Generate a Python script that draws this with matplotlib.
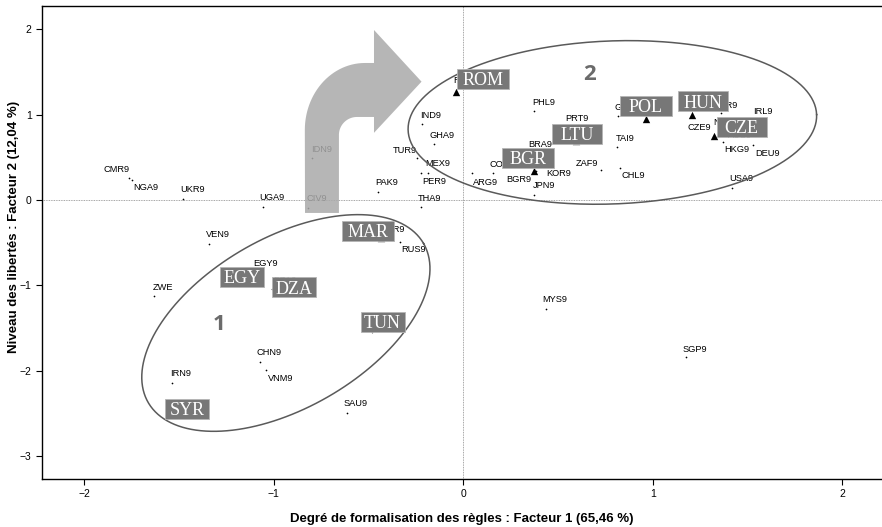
import numpy as np
import matplotlib.pyplot as plt
from matplotlib.patches import Polygon, Rectangle

# country codes and coordinates on the two factors
codes = ["ARG9", "BGR9", "BRA9", "CHL9", "CHN9", "CIV9", "CMR9", "COL9", "CZE9", "DEU9",
         "DZA9", "EGY9", "GHA9", "GRC9", "HKG9", "HUN9", "IDN9", "IND9", "IRL9", "IRN9",
         "JPN9", "KOR9", "LTU9", "MAR9", "MEX9", "MYS9", "NGA9", "NLD9", "NOR9", "AUS9",
         "PAK9", "PER9", "PHL9", "POL9", "PRT9", "ROM9", "RUS9", "SAU9", "SGP9", "SYR9",
         "TAI9", "THA9", "TUN9", "TUR9", "UGA9", "UKR9", "USA9", "VEN9", "VNM9", "ZAF9",
         "ZWE"]
f1 = [0.046, 0.374, 0.356, 0.826, -1.074, -0.821, -1.764, 0.157, 1.323, 1.526,
      -1.012, -1.106, -0.154, 0.817, 1.368, 1.204, -0.801, -0.221, 1.538, -1.540,
      0.372, 0.383, 0.592, -0.437, -0.189, 0.435, -1.751, 1.380, 1.357, 1.459,
      -0.453, -0.224, 0.374, 0.961, 0.551, -0.040, -0.335, -0.613, 1.174, -1.464,
      0.808, -0.224, -0.484, -0.247, -1.060, -1.479, 1.418, -1.343, -1.042, 0.726,
      -1.633]
f2 = [0.313, 0.343, 0.539, 0.379, -1.896, -0.097, 0.261, 0.313, 0.750, 0.645,
      -1.047, -0.844, 0.653, 0.988, 0.683, 0.996, 0.489, 0.891, 0.932, -2.142,
      0.059, 0.340, 0.692, -0.445, 0.320, -1.278, 0.234, 0.844, 1.016, 0.844,
      0.090, 0.320, 1.043, 0.946, 0.844, 1.270, -0.489, -2.494, -1.841, -2.509,
      0.625, -0.079, -1.551, 0.496, -0.079, 0.012, 0.144, -0.519, -1.993, 0.352,
      -1.125]

# countries drawn with a triangle
tri_codes = ["ROM9", "LTU9", "BGR9", "POL9", "HUN9", "CZE9", "MAR9"]
# countries tagged with a grey box
box_codes = ["ROM9", "LTU9", "BGR9", "POL9", "HUN9", "CZE9", "MAR9", "EGY9", "DZA9", "TUN9", "SYR9"]
box_names = ["ROM", "LTU", "BGR", "POL", "HUN", "CZE", "MAR", "EGY", "DZA", "TUN", "SYR"]

x_ticks = [-2, -1, 0, 1, 2]
y_ticks = [-3, -2, -1, 0, 1, 2]

# label offsets (pixels) from each point
lab_off = {
    "ARG9": (1, -9.4), "BGR9": (-27.6, -8.6), "BRA9": (-2.7, 9), "CHL9": (1.7, -8.3),
    "CHN9": (-3.3, 9), "CIV9": (-1.3, 9.3), "CMR9": (-26, 8.4), "COL9": (-3.3, 9),
    "CZE9": (-26.6, 8.3), "DEU9": (2.3, -8.3), "DZA9": (1.6, 8.5), "EGY9": (-0.7, 8.7),
    "GHA9": (-4.3, 8.6), "GRC9": (-4, 8.4), "HKG9": (1.6, -7.6), "HUN9": (-7.7, 12),
    "IDN9": (-1, 8.3), "IND9": (-1, 8.3), "IRL9": (-1.7, 8.8), "IRN9": (-1, 9.4),
    "JPN9": (-0.7, 9), "KOR9": (10.7, -2.3), "LTU9": (-10, 9), "MAR9": (-1.5, 8.7),
    "MEX9": (-2.7, 8.7), "MYS9": (-4, 9), "NGA9": (1.6, -7.7), "NLD9": (-12, 5.5),
    "NOR9": (-8.7, 8.3), "AUS9": (-12, -8), "PAK9": (-2.7, 9.6), "PER9": (1.3, -9),
    "PHL9": (-1.6, 8.3), "POL9": (-9.7, 11.3), "PRT9": (-2.3, 9), "ROM9": (-3, 10.7),
    "RUS9": (1.7, -8.3), "SAU9": (-3.3, 9.4), "SGP9": (-3, 8), "SYR9": (-3, 9),
    "TAI9": (-1, 8.4), "THA9": (-2.7, 8.4), "TUN9": (-2, 9), "TUR9": (-23.4, 6.7),
    "UGA9": (-3.4, 9.4), "UKR9": (-3.3, 9), "USA9": (-3.3, 8.7), "VEN9": (-3, 9.3),
    "VNM9": (2.3, -9), "ZAF9": (-25.3, 6.7), "ZWE": (-1.7, 8.3),
}
# box centre offsets and widths (pixels) from each point
box_off = [(27, 12.7), (1.6, 7), (-6.3, 13), (0, 13), (11.6, 13.7), (27.4, 9.3),
           (-12.4, 7), (-12, -4.7), (22, 1.8), (10.8, 10), (1, 5)]
box_w = [52, 50, 52, 52, 50, 50, 52, 44, 44, 44, 44]
box_h = 20

plt.rcParams['font.family'] = ['Liberation Sans', 'DejaVu Sans']

W, H = 882, 527
fig = plt.figure(figsize=(W / 100, H / 100), dpi=100)
ax = fig.add_axes([42 / W, 48 / H, 840 / W, 473 / H])
ax.set_xlim(-2.224, 2.209)
ax.set_ylim(-3.271, 2.274)

# pixels per data unit
sx = 840 / (2.209 + 2.224)
sy = 473 / (2.274 + 3.271)

ax.axhline(0, color='#888888', lw=0.6, ls=(0, (1, 1)), zorder=1)
ax.axvline(0, color='#888888', lw=0.6, ls=(0, (1, 1)), zorder=1)

tri = np.isin(codes, tri_codes)
xs = np.array(f1)
ys = np.array(f2)
ax.scatter(xs[~tri], ys[~tri], s=1.5, c='black', zorder=3, linewidths=0)
ax.scatter(xs[tri], ys[tri], s=28, marker='^', c='black', zorder=3, linewidths=0)

for c, x, y in zip(codes, f1, f2):
    ax.annotate(c, (x, y), xytext=lab_off[c], textcoords='offset pixels',
                ha='left', va='center', fontsize=6.7, zorder=3)

for c, name, (dx, dy), w in zip(box_codes, box_names, box_off, box_w):
    i = codes.index(c)
    x, y = f1[i], f2[i]
    ax.add_patch(Rectangle((x + (dx - w / 2) / sx, y + (dy - box_h / 2) / sy),
                           w / sx, box_h / sy, fc='#777777', ec='#b5b5b5', lw=0.6, zorder=6))
    ax.annotate(name, (x, y), xytext=(dx, dy - 6.2), textcoords='offset pixels',
                ha='center', va='baseline', fontsize=13, color='white',
                family='Liberation Serif', zorder=7)


def ellipse(cx, cy, a, b, ang):
    t = np.linspace(0, 2 * np.pi, 300)
    th = np.radians(ang)
    u, v = a * np.cos(t), b * np.sin(t)
    px = u * np.cos(th) - v * np.sin(th)
    py = u * np.sin(th) + v * np.cos(th)
    return cx + px / sx, cy + py / sy


ex, ey = ellipse(-0.937, -1.442, 159, 85, 30)
ax.plot(ex, ey, color='#5a5a5a', lw=1.1, zorder=5)
ex, ey = ellipse(0.786, 0.909, 204.4, 81.5, 2.2)
ax.plot(ex, ey, color='#5a5a5a', lw=1.1, zorder=5)

ax.text(-1.29, -1.46, "1", fontsize=16, fontweight='bold', color='#6b6b6b',
        family='Open Sans', ha='center', va='center', zorder=5)
ax.text(0.667, 1.475, "2", fontsize=16, fontweight='bold', color='#6b6b6b',
        family='Open Sans', ha='center', va='center', zorder=5)

# bent arrow from group 1 towards group 2
a_out = np.radians(np.linspace(90, 180, 30))
a_in = np.radians(np.linspace(180, 90, 30))
inner = np.column_stack([-0.562 + 0.095 * np.cos(a_in), 0.762 + 0.211 * np.sin(a_in)])
outer = np.column_stack([-0.520 + 0.317 * np.cos(a_out), 0.821 + 0.785 * np.sin(a_out)])
pts = np.vstack([[[-0.836, -0.152], [-0.657, -0.152]], inner,
                 [[-0.472, 0.973], [-0.472, 0.787], [-0.221, 1.387],
                  [-0.472, 1.993], [-0.472, 1.606]], outer])
ax.add_patch(Polygon(pts, closed=True, fc='#aaaaaa', ec='none', alpha=0.85, zorder=4))

ax.spines['right'].set_visible(False)
for s in ['left', 'bottom', 'top']:
    ax.spines[s].set_linewidth(1.0)
ax.set_xticks(x_ticks)
ax.set_yticks(y_ticks)
ax.tick_params(direction='out', length=4, width=0.8, labelsize=7.5)
ax.set_xlabel("Degré de formalisation des règles : Facteur 1 (65,46 %)",
              fontsize=9.5, fontweight='bold', labelpad=10)
ax.set_ylabel("Niveau des libertés : Facteur 2 (12,04 %)",
              fontsize=9.5, fontweight='bold')
ax.yaxis.set_label_coords(-0.026, 0.532)

fig.savefig("out.png", dpi=100, facecolor='white')
